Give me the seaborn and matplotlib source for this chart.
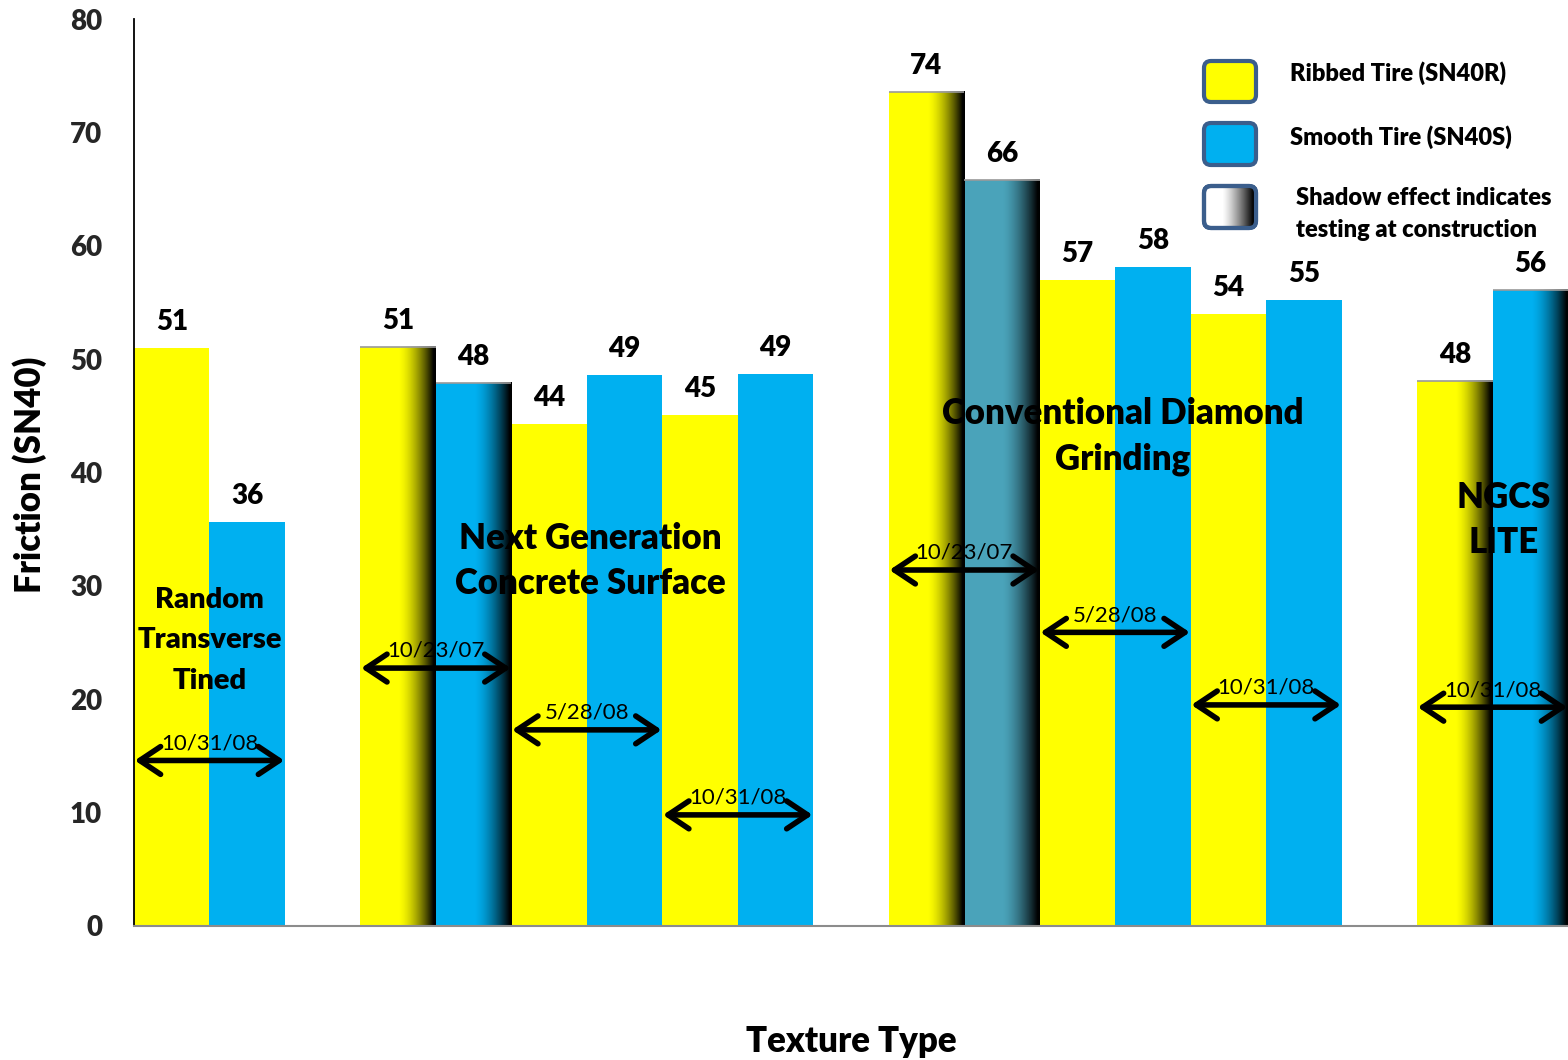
import numpy as np
import pandas as pd
import matplotlib
matplotlib.use("Agg")
import matplotlib.pyplot as plt
from matplotlib.patches import FancyBboxPatch
import seaborn as sns

# Surfaces and the friction tests run on each
surfaces = ["Random\nTransverse\nTined", "Next Generation\nConcrete Surface",
            "Conventional Diamond\nGrinding", "NGCS\nLITE"]
test_surface = [0, 1, 1, 1, 2, 2, 2, 3]
test_dates = ["10/31/08", "10/23/07", "5/28/08", "10/31/08",
              "10/23/07", "5/28/08", "10/31/08", "10/31/08"]
ribbed_sn40 = [51.0, 51.1, 44.3, 45.1, 73.6, 57.0, 54.0, 48.1]
smooth_sn40 = [35.6, 47.9, 48.6, 48.7, 65.8, 58.1, 55.2, 56.1]
at_construction = [False, True, False, False, True, False, False, True]

series_names = ["Ribbed Tire (SN40R)", "Smooth Tire (SN40S)"]
series_colors = ["#FFFF00", "#00B0F0"]
smooth_tint_override = {4: "#4AA3BA"}

# Layout of annotations (data units)
arrow_levels = [14.6, 22.75, 17.3, 9.8, 31.4, 25.9, 19.5, 19.3]
surface_label_xy = [(0.5, 25.2), (5.55, 32.2), (12.6, 43.2), (17.65, 35.8)]
surface_label_size = [21, 25, 25, 25]
surface_label_spacing = [1.7, 1.45, 1.45, 1.45]

# Each test occupies two adjacent slots, with one empty slot between surfaces
rows = []
for i, (s, r, sm, c) in enumerate(zip(test_surface, ribbed_sn40, smooth_sn40, at_construction)):
    base = 2 * i + s
    rows.append(dict(pos=base, friction=r, tire=series_names[0], test=i, construction=c))
    rows.append(dict(pos=base + 1, friction=sm, tire=series_names[1], test=i, construction=c))
df = pd.DataFrame(rows)

sns.set_theme(style="white")
plt.rcParams["font.family"] = ["Lato", "DejaVu Sans"]
BOLD = "heavy"

W, H = 1568, 1060
fig = plt.figure(figsize=(W / 100, H / 100), dpi=100)
ax = fig.add_axes([134 / W, 1 - 926 / H, 1 - 134 / W, (926 - 19) / H])

sns.barplot(data=df, x="pos", y="friction", hue="tire", palette=series_colors,
            native_scale=True, dodge=False, width=1.0, saturation=1,
            linewidth=0, errorbar=None, legend=False, ax=ax)

# Shadow gradient on bars tested at construction, value labels on all bars
ncol = 300
u = np.linspace(0, 1, ncol)
t = np.clip((u - 0.5) / 0.47, 0, 1)
shade = np.zeros((1, ncol, 4))
shade[..., 3] = t ** 1.6

bars = [p for p in ax.patches if p.get_height() > 0]
for p in bars:
    x0, w, h = p.get_x(), p.get_width(), p.get_height()
    pos = int(round(x0 + w / 2))
    row = df[df["pos"] == pos].iloc[0]
    if row["tire"] == series_names[1] and row["test"] in smooth_tint_override:
        p.set_facecolor(smooth_tint_override[row["test"]])
    if row["construction"]:
        ax.imshow(shade, extent=(x0, x0 + w, 0, h), aspect="auto",
                  interpolation="bilinear", zorder=p.get_zorder() + 0.1)
        ax.plot([x0, x0 + w], [h, h], color="#9a9a9a", lw=1.2,
                zorder=p.get_zorder() + 0.2, solid_capstyle="butt")
    ax.annotate(f"{row['friction']:.0f}", xy=(x0 + w / 2, h), xytext=(0, 13),
                textcoords="offset points", ha="center", va="baseline",
                fontsize=20, fontweight=BOLD, color="black", zorder=6)

# Test-date arrows spanning each ribbed/smooth pair
for i, (d, y) in enumerate(zip(test_dates, arrow_levels)):
    pair = df[df["test"] == i]["pos"]
    left, right = pair.min() - 0.5 + 0.01, pair.max() + 0.5 - 0.01
    ax.annotate("", xy=(right, y), xytext=(left, y),
                arrowprops=dict(arrowstyle="<->,head_length=0.75,head_width=0.5",
                                lw=4, color="black", shrinkA=0, shrinkB=0,
                                mutation_scale=20, capstyle="round",
                                joinstyle="round"), zorder=7)
    ax.annotate(d, xy=((left + right) / 2, y), xytext=(0, 8),
                textcoords="offset points", ha="center", va="baseline",
                fontsize=16, color="black", zorder=7)

# Surface names
for name, (x, y), fs, ls in zip(surfaces, surface_label_xy, surface_label_size,
                                surface_label_spacing):
    ax.text(x, y, name, ha="center", va="center", fontsize=fs,
            fontweight=BOLD, color="black", linespacing=ls, zorder=7)

ax.set_xlim(-0.5, 18.5)
ax.set_ylim(0, 80)
ax.set_yticks(np.arange(0, 81, 10))
ax.set_xticks([])
ax.tick_params(axis="y", direction="out", length=9, width=1.2, color="black",
               pad=14, labelsize=20)
for lbl in ax.get_yticklabels():
    lbl.set_fontweight(BOLD)
for side in ["top", "right"]:
    ax.spines[side].set_visible(False)
ax.spines["left"].set_color("black")
ax.spines["left"].set_linewidth(1.3)
ax.spines["bottom"].set_color("#8c8c8c")
ax.spines["bottom"].set_linewidth(1.5)
ax.set_facecolor("white")

ax.set_ylabel("Friction (SN40)", fontsize=25, fontweight=BOLD, color="black")
ax.yaxis.set_label_coords(-0.0725, 0.498)
ax.yaxis.label.set_va("center")
ax.set_xlabel("Texture Type", fontsize=25, fontweight=BOLD, color="black")
ax.xaxis.set_label_coords(0.5, -0.127)
ax.xaxis.label.set_va("center")

# Legend drawn in pixel space on an overlay
lax = fig.add_axes([0, 0, 1, 1], zorder=5)
lax.set_xlim(0, W)
lax.set_ylim(H, 0)
lax.axis("off")
legend_fills = [series_colors[0], series_colors[1], None]
legend_boxes = [(1204, 61, 52, 41), (1204, 123, 52, 42), (1204, 186, 52, 42)]
for fill, (bx, by, bw, bh) in zip(legend_fills, legend_boxes):
    box = FancyBboxPatch((bx, by), bw, bh, boxstyle="round,pad=0,rounding_size=7",
                         facecolor=fill if fill else "white",
                         edgecolor="#3B5E8C", lw=3, zorder=3)
    lax.add_patch(box)
    if fill is None:
        g = np.linspace(0, 1, 200)
        gt = np.clip((g - 0.35) / 0.6, 0, 1) ** 1.3
        grad = np.zeros((1, 200, 4))
        grad[..., 3] = gt
        im = lax.imshow(grad, extent=(bx, bx + bw, by + bh, by), aspect="auto",
                        interpolation="bilinear", zorder=3.5)
        im.set_clip_path(box)
        lax.add_patch(FancyBboxPatch((bx, by), bw, bh,
                                     boxstyle="round,pad=0,rounding_size=7",
                                     facecolor="none", edgecolor="#3B5E8C",
                                     lw=3, zorder=4))
lax.set_xlim(0, W)
lax.set_ylim(H, 0)
lax.text(1290, 73, series_names[0], ha="left", va="center", fontsize=17,
         fontweight=BOLD, color="black")
lax.text(1290, 137, series_names[1], ha="left", va="center", fontsize=17,
         fontweight=BOLD, color="black")
lax.text(1296, 214, "Shadow effect indicates\ntesting at construction", ha="left",
         va="center", fontsize=17, fontweight=BOLD, color="black",
         linespacing=1.55)

fig.savefig("out.png", dpi=100, facecolor="white")
